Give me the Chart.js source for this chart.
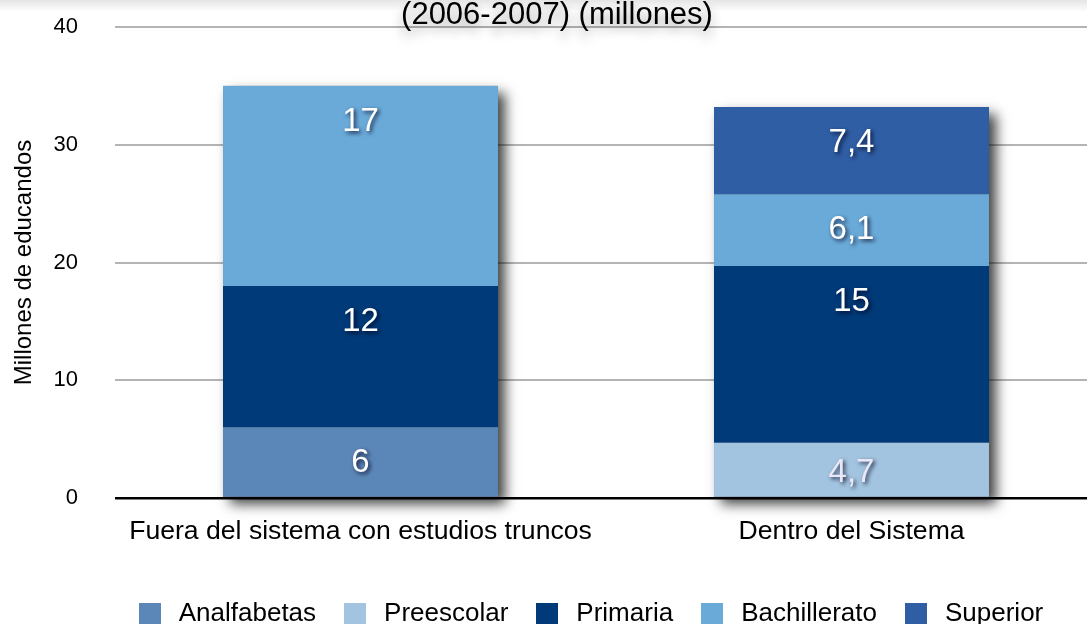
<!DOCTYPE html>
<html>
<head>
<meta charset="utf-8">
<script src="https://cdn.jsdelivr.net/npm/chart.js@4/dist/chart.umd.min.js"></script>
<style>
  html, body { margin: 0; padding: 0; background: #ffffff; overflow: hidden; }
  #wrap { position: absolute; left: 0; top: 0; width: 1097px; height: 637px; }
</style>
</head>
<body>
<div id="wrap"><canvas id="c"></canvas></div>
<script>
// ---- data ----
const categories = ['Fuera del sistema con estudios truncos', 'Dentro del Sistema'];
const seriesNames = ['Analfabetas', 'Preescolar', 'Primaria', 'Bachillerato', 'Superior'];
const analfabetas = [6, null];
const preescolar = [null, 4.7];
const primaria = [12, 15];
const bachillerato = [17, 6.1];
const superior = [null, 7.4];
const yTicks = [0, 10, 20, 30, 40];
const titleText = '(2006-2007) (millones)';
const yTitle = 'Millones de educandos';

// ---- styles ----
const colors = ['#5b87b8', '#a3c4e0', '#003a78', '#6aaad9', '#2f5ea5'];
const labelColors = ['#ffffff', '#e8e8f6', '#ffffff', '#ffffff', '#ffffff'];
const FONT = "'Liberation Sans', Arial, Helvetica, sans-serif";
Chart.defaults.font.family = FONT;
Chart.defaults.color = '#000000';

function swatch(c) {
  const cv = document.createElement('canvas');
  cv.width = 22; cv.height = 22;
  const x = cv.getContext('2d');
  x.fillStyle = c; x.fillRect(0, 0, 22, 22);
  return cv;
}
const swatches = colors.map(swatch);

const seriesValues = [analfabetas, preescolar, primaria, bachillerato, superior];
const datasets = seriesNames.map((name, i) => ({
  label: name,
  data: seriesValues[i],
  backgroundColor: colors[i],
  borderWidth: 0,
  barPercentage: 0.56,
  categoryPercentage: 1.0
}));

const barShadow = {
  id: 'barShadow',
  beforeDatasetsDraw(chart) {
    const ctx = chart.ctx;
    ctx.save();
    ctx.shadowColor = 'rgba(0,0,0,0.75)';
    ctx.shadowBlur = 12;
    ctx.shadowOffsetX = 7;
    ctx.shadowOffsetY = 7;
    ctx.fillStyle = '#555';
    for (let i = 0; i < categories.length; i++) {
      let top = Infinity, bottom = -Infinity, left = null, right = null;
      chart.data.datasets.forEach((ds, d) => {
        if (ds.data[i] == null) return;
        const el = chart.getDatasetMeta(d).data[i];
        const p = el.getProps(['x', 'y', 'base', 'width'], true);
        top = Math.min(top, p.y, p.base);
        bottom = Math.max(bottom, p.y, p.base);
        left = p.x - p.width / 2;
        right = p.x + p.width / 2;
      });
      if (left !== null) ctx.fillRect(left, top, right - left, bottom - top);
    }
    ctx.restore();
  }
};

const valueLabels = {
  id: 'valueLabels',
  afterDatasetsDraw(chart) {
    const ctx = chart.ctx;
    ctx.save();
    ctx.font = '33px ' + FONT;
    ctx.textAlign = 'center';
    ctx.textBaseline = 'middle';
    ctx.shadowColor = 'rgba(0,0,30,0.8)';
    ctx.shadowBlur = 4;
    ctx.shadowOffsetX = 2;
    ctx.shadowOffsetY = 2;
    chart.data.datasets.forEach((ds, d) => {
      const meta = chart.getDatasetMeta(d);
      ds.data.forEach((v, i) => {
        if (v == null) return;
        const p = meta.data[i].getProps(['x', 'y', 'base'], true);
        const top = Math.min(p.y, p.base), bot = Math.max(p.y, p.base);
        const y = Math.min((top + bot) / 2, top + 33) + 3;
        ctx.fillStyle = labelColors[d];
        ctx.fillText(String(v).replace('.', ','), p.x, y);
      });
    });
    ctx.restore();
  }
};

const topTitle = {
  id: 'topTitle',
  beforeDraw(chart) {
    const ctx = chart.ctx;
    ctx.save();
    const g = ctx.createLinearGradient(0, 0, 0, 12);
    g.addColorStop(0, 'rgba(0,0,0,0.10)');
    g.addColorStop(1, 'rgba(0,0,0,0)');
    ctx.fillStyle = g;
    ctx.fillRect(0, 0, chart.width, 12);
    ctx.restore();
  },
  afterDraw(chart) {
    const ctx = chart.ctx;
    ctx.save();
    ctx.font = '31px ' + FONT;
    ctx.textAlign = 'center';
    ctx.textBaseline = 'alphabetic';
    ctx.shadowColor = 'rgba(0,0,0,0.4)';
    ctx.shadowBlur = 12;
    ctx.shadowOffsetY = 7;
    ctx.fillStyle = '#000';
    ctx.fillText(titleText, 557, 24);
    ctx.restore();
  }
};

const legendShift = {
  id: 'legendShift',
  afterLayout(chart) {
    if (chart.legend) { chart.legend.left += 40; chart.legend.right += 40; }
  }
};

new Chart(document.getElementById('c'), {
  type: 'bar',
  data: { labels: categories, datasets },
  plugins: [barShadow, valueLabels, topTitle, legendShift],
  options: {
    responsive: true,
    maintainAspectRatio: false,
    animation: false,
    layout: { padding: { top: 27, left: 0, right: 0, bottom: 0 } },
    plugins: {
      title: { display: false },
      tooltip: { enabled: false },
      legend: {
        position: 'bottom',
        labels: {
          usePointStyle: true,
          pointStyleWidth: 32,
          boxHeight: 22,
          padding: 23,
          color: '#000',
          font: { size: 26 },
          generateLabels(chart) {
            const items = Chart.defaults.plugins.legend.labels.generateLabels(chart);
            items.forEach(it => { it.pointStyle = swatches[it.datasetIndex]; });
            return items;
          }
        }
      }
    },
    scales: {
      x: {
        stacked: true,
        grid: { display: false, drawTicks: false },
        border: { display: false },
        ticks: { font: { size: 26.6 }, color: '#000', padding: 18 },
        afterFit(scale) { scale.height = 80; }
      },
      y: {
        stacked: true,
        min: 0,
        max: 40,
        afterBuildTicks(scale) { scale.ticks = yTicks.map(v => ({ value: v })); },
        grid: {
          drawTicks: false,
          color: ctx => (ctx.tick && ctx.tick.value === 0) ? '#000000' : '#b4b4b4',
          lineWidth: ctx => (ctx.tick && ctx.tick.value === 0) ? 2.5 : 2
        },
        border: { display: false },
        ticks: { font: { size: 22 }, color: '#000', padding: 37 },
        title: {
          display: true,
          text: yTitle,
          color: '#000',
          font: { size: 24 },
          padding: { top: 10, bottom: 0 }
        },
        afterFit(scale) {
          scale.width = 115;
          scale.paddingTop = 0;
          scale.paddingBottom = 0;
        }
      }
    }
  }
});
</script>
</body>
</html>
